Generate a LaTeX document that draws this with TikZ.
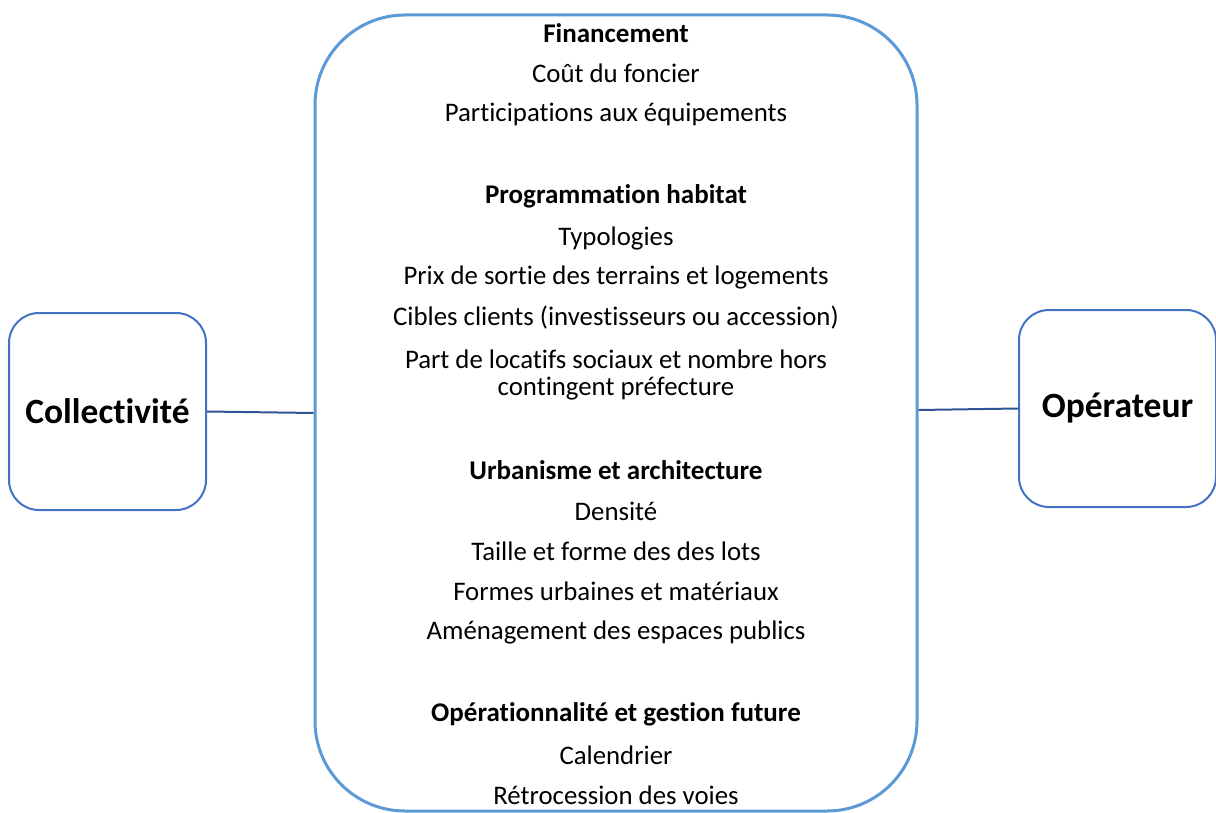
\documentclass[tikz,border=0pt]{standalone}
\usepackage{fontspec}
\setmainfont[Ligatures=NoCommon]{Carlito}
\definecolor{bigblue}{HTML}{5B9BD5}
\definecolor{sideblue}{HTML}{4472C4}
\definecolor{linkblue}{HTML}{2F5597}
\begin{document}
\begin{tikzpicture}[x=1pt,y=-1pt,
  txt/.style={anchor=center,inner sep=0pt,font=\fontsize{26.8}{30}\selectfont},
  head/.style={anchor=center,inner sep=0pt,font=\fontsize{27}{30}\selectfont\bfseries},
  side/.style={draw=sideblue,line width=2pt,rounded corners=30pt,minimum width=197pt,minimum height=197pt,inner sep=0pt,font=\fontsize{35.5}{40}\selectfont\bfseries},
  link/.style={draw=linkblue,line width=2pt}]
\useasboundingbox (0,0) rectangle (1216,813);
\node[draw=bigblue,line width=3pt,rounded corners=90pt,minimum width=602pt,minimum height=796pt,inner sep=0pt] (mid) at (616,413) {};
\node[side] (coll) at (107.5,411.5) {Collectivité};
\node[side] (oper) at (1117.5,408.5) {Opérateur};
\draw[link] (coll.east) -- (mid.west |- 0,413);
\draw[link] (mid.east |- 0,410) -- (oper.west);
\node[head] (h1) at (616,33) {Financement};
\node[txt] (t1) at (616,73) {Coût du foncier};
\node[txt] (t2) at (616,114) {Participations aux équipements};
\node[head] (h2) at (616,196) {Programmation habitat};
\node[txt] (t3) at (616,238) {Typologies};
\node[txt] (t4) at (616,277) {Prix de sortie des terrains et logements};
\node[txt] (t5) at (616,318) {Cibles clients (investisseurs ou accession)};
\node[txt] (t6) at (616,359) {Part de locatifs sociaux et nombre hors};
\node[txt] (t7) at (616,389) {contingent préfecture};
\node[head] (h3) at (616,470) {Urbanisme et architecture};
\node[txt] (t8) at (616,511) {Densité};
\node[txt] (t9) at (616,551) {Taille et forme des des lots};
\node[txt] (t10) at (616,591) {Formes urbaines et matériaux};
\node[txt] (t11) at (616,632) {Aménagement des espaces publics};
\node[head] (h4) at (616,714) {Opérationnalité et gestion future};
\node[txt] (t12) at (616,755) {Calendrier};
\node[txt] (t13) at (616,795) {Rétrocession des voies};
\end{tikzpicture}
\end{document}
